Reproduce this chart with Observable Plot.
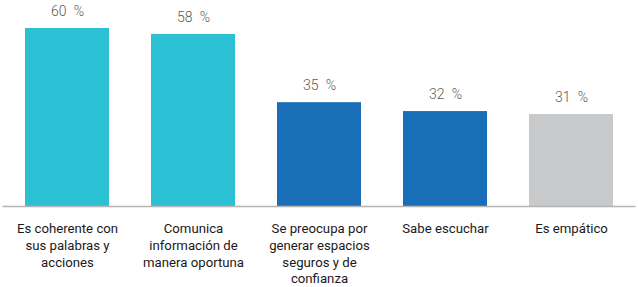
<!DOCTYPE html>
<html><head><meta charset="utf-8">
<script src="https://cdn.jsdelivr.net/npm/d3@7"></script>
<script src="https://cdn.jsdelivr.net/npm/@observablehq/plot@0.6"></script>
<style>body{margin:0;background:#fff;} svg{display:block;}</style>
</head><body><div id="chart"></div>
<script>
const categories = [
  "Es coherente con\nsus palabras y\nacciones",
  "Comunica\ninformación de\nmanera oportuna",
  "Se preocupa por\ngenerar espacios\nseguros y de\nconfianza",
  "Sabe escuchar",
  "Es empático"
];
const values = [60, 58, 35, 32, 31];
const groups = ["a", "a", "b", "b", "c"];
const groupColors = {a: "#2cc0d5", b: "#186fb8", c: "#c8c9cb"};

const data = categories.map((c, i) => ({cat: c, value: values[i], group: groups[i]}));

const chart = Plot.plot({
  width: 638,
  height: 287,
  marginLeft: 2.5,
  marginRight: 2.5,
  marginTop: 28,
  marginBottom: 81,
  style: {fontFamily: "Roboto, sans-serif", background: "#fff"},
  x: {domain: categories, paddingInner: 0.33, paddingOuter: 0.165, label: null},
  y: {domain: [0, 60], axis: null},
  color: {domain: Object.keys(groupColors), range: Object.values(groupColors)},
  marks: [
    Plot.barY(data, {x: "cat", y: "value", fill: "group"}),
    Plot.ruleY([0], {stroke: "#b4b4b4", strokeWidth: 1.5}),
    Plot.text(data, {x: "cat", y: "value", text: d => d.value + "\u2002%", dy: -17, fontSize: 14, fill: "#5a5a5a", fontWeight: 300}),
    Plot.axisX({tickSize: 0, tickPadding: 15, fontSize: 13.2, lineHeight: 1.265, fill: "#1a1a1a", label: null})
  ]
});
document.getElementById("chart").appendChild(chart);
</script>
</body></html>
